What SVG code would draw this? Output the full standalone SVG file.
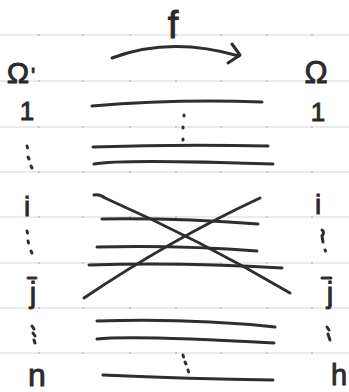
<svg xmlns="http://www.w3.org/2000/svg" width="349" height="392" viewBox="0 0 349 392">
<style>
.rule{stroke:#d6d6d6;stroke-width:1;fill:none}
.tick{fill:#bdbdbd}
.ink{stroke:#2e2e2e;stroke-width:3;fill:none;stroke-linecap:round;stroke-linejoin:round}
.dot{stroke:#2e2e2e;stroke-width:3;fill:none;stroke-linecap:round}
.lbl{font-family:"Liberation Sans",Arial,sans-serif;fill:#2a2a2a;stroke:#2a2a2a;stroke-width:0.9;text-anchor:middle}
</style>
<rect width="349" height="392" fill="#ffffff"/>
<g id="paper">
<path class="rule" d="M0 35H349M0 81H349M0 127H349M0 172H349M0 217H349M0 263H349M0 308H349M0 353H349"/>
<g class="tick">
<circle cx="39" cy="35" r="1"/><circle cx="83" cy="35" r="1"/><circle cx="130" cy="35" r="1"/><circle cx="176" cy="35" r="1"/><circle cx="221" cy="35" r="1"/><circle cx="267" cy="35" r="1"/><circle cx="312" cy="35" r="1"/>
<circle cx="39" cy="81" r="1"/><circle cx="83" cy="81" r="1"/><circle cx="130" cy="81" r="1"/><circle cx="176" cy="81" r="1"/><circle cx="221" cy="81" r="1"/><circle cx="267" cy="81" r="1"/><circle cx="312" cy="81" r="1"/>
<circle cx="39" cy="127" r="1"/><circle cx="83" cy="127" r="1"/><circle cx="130" cy="127" r="1"/><circle cx="176" cy="127" r="1"/><circle cx="221" cy="127" r="1"/><circle cx="267" cy="127" r="1"/><circle cx="312" cy="127" r="1"/>
<circle cx="39" cy="172" r="1"/><circle cx="83" cy="172" r="1"/><circle cx="130" cy="172" r="1"/><circle cx="176" cy="172" r="1"/><circle cx="221" cy="172" r="1"/><circle cx="267" cy="172" r="1"/><circle cx="312" cy="172" r="1"/>
<circle cx="39" cy="217" r="1"/><circle cx="83" cy="217" r="1"/><circle cx="130" cy="217" r="1"/><circle cx="176" cy="217" r="1"/><circle cx="221" cy="217" r="1"/><circle cx="267" cy="217" r="1"/><circle cx="312" cy="217" r="1"/>
<circle cx="39" cy="263" r="1"/><circle cx="83" cy="263" r="1"/><circle cx="130" cy="263" r="1"/><circle cx="176" cy="263" r="1"/><circle cx="221" cy="263" r="1"/><circle cx="267" cy="263" r="1"/><circle cx="312" cy="263" r="1"/>
<circle cx="39" cy="308" r="1"/><circle cx="83" cy="308" r="1"/><circle cx="130" cy="308" r="1"/><circle cx="176" cy="308" r="1"/><circle cx="221" cy="308" r="1"/><circle cx="267" cy="308" r="1"/><circle cx="312" cy="308" r="1"/>
<circle cx="39" cy="353" r="1"/><circle cx="83" cy="353" r="1"/><circle cx="130" cy="353" r="1"/><circle cx="176" cy="353" r="1"/><circle cx="221" cy="353" r="1"/><circle cx="267" cy="353" r="1"/><circle cx="312" cy="353" r="1"/>
</g>
</g>
<g id="map-f">
<text class="lbl" x="173" y="38" font-size="38">f</text>
<path class="ink" d="M112 58Q170 36 239 56"/>
<path class="ink" d="M232 44L240 55L228 63"/>
</g>
<g id="labels-left">
<text class="lbl" x="21" y="83" font-size="30">Ω<tspan dx="2" font-size="22">'</tspan></text>
<text class="lbl" x="27" y="120" font-size="26">1</text>
<text class="lbl" x="27" y="216" font-size="28">i</text>
<text class="lbl" x="33" y="303" font-size="29">j</text>
<text class="lbl" x="37" y="386" font-size="32">n</text>
<path class="dot" d="M27 146L27.5 148M28 157L29 159M31 166L32 168"/>
<path class="dot" d="M27 231L27.5 233M28 241L28.5 243M31 251L32 253"/>
<path class="ink" d="M28 278L36 278"/>
<path class="dot" d="M32 326L34 329M33 333L35 336M34 340L35 343"/>
</g>
<g id="labels-right">
<text class="lbl" x="316" y="83" font-size="31">Ω</text>
<text class="lbl" x="318" y="121" font-size="26">1</text>
<text class="lbl" x="318" y="214" font-size="28">i</text>
<text class="lbl" x="330" y="303" font-size="29">j</text>
<text class="lbl" x="339" y="385" font-size="29">h</text>
<path class="dot" d="M322 230Q325 232 322 236L323 242M325 250L325.5 251"/>
<path class="ink" d="M322 278L331 278"/>
<path class="dot" d="M327 327L329 330M328 334L330 340"/>
</g>
<g id="connectors">
<path class="ink" d="M92 106Q175 99 262 102"/>
<path class="ink" d="M93 147Q180 144 268 146"/>
<path class="ink" d="M94 164Q120 159 273 164"/>
<path class="ink" d="M94 195Q100 194 105 198Q200 240 290 293"/>
<path class="ink" d="M84 298Q170 240 260 198"/>
<path class="ink" d="M102 219Q180 218 258 224"/>
<path class="ink" d="M97 247Q180 245 257 251"/>
<path class="ink" d="M89 265Q180 262 282 268"/>
<path class="ink" d="M97 321Q190 318 275 327"/>
<path class="ink" d="M97 339Q130 335 274 343"/>
<path class="ink" d="M103 375Q190 379 273 380"/>
<path class="dot" d="M184 115L184 116M183 127L183 128M183 139L183 140"/>
<path class="dot" d="M183 355L183.5 357M185 362L186 364M188 370L188.5 372"/>
</g>
</svg>
